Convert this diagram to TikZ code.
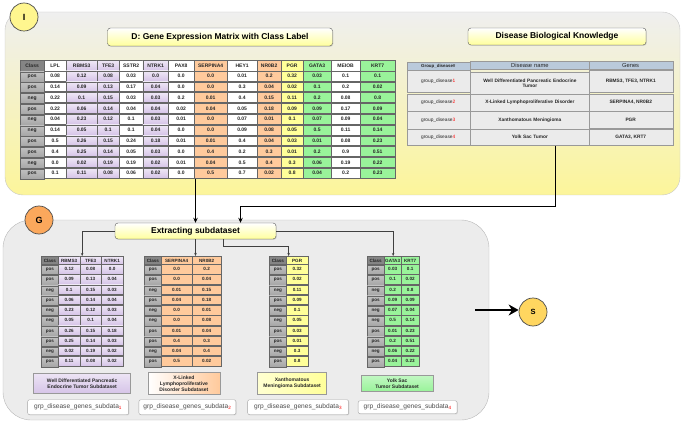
\documentclass[tikz,border=0pt]{standalone}
\usepackage{fontspec}
\setmainfont{Liberation Sans}
\usepackage{tikz}
\usetikzlibrary{arrows.meta,positioning,matrix,shadows}
\usepackage{xcolor}
\definecolor{PanelTop}{HTML}{EFEFEF}
\definecolor{PanelYellow}{HTML}{FCF59A}
\definecolor{PanelGray}{HTML}{ECECEC}
\definecolor{TitleYellow}{HTML}{FFFF9C}
\definecolor{Lavender}{HTML}{D6C4E8}
\definecolor{Peach}{HTML}{FFCA9C}
\definecolor{PaleYellow}{HTML}{FFFF99}
\definecolor{Mint}{HTML}{99F39A}
\definecolor{ClassGray}{HTML}{A6A6A6}
\definecolor{HeadBlue}{HTML}{BACADB}
\definecolor{RowGray}{HTML}{EBEBEB}
\definecolor{BadgeI}{HTML}{FFF68F}
\definecolor{BadgeG}{HTML}{FBA85C}
\definecolor{BadgeS}{HTML}{FFD660}
\tikzset{
    % big rounded panels
    panel/.style={
        rectangle,
        draw=black!22,
        inner sep=0pt
    },
    badge/.style={
        circle,
        draw=black!70,
        line width=0.7pt,
        minimum size=28pt,
        inner sep=0pt,
        font=\fontsize{9}{9}\selectfont\bfseries
    },
    titlebox/.style={
        rectangle,
        rounded corners=3pt,
        draw=black!65,
        top color=white,
        bottom color=TitleYellow,
        font=\fontsize{8.5}{10}\selectfont\bfseries,
        drop shadow={shadow xshift=0.8pt, shadow yshift=-0.8pt, opacity=0.25}
    },
    % table cells
    cell/.style={
        rectangle,
        draw=black!60,
        line width=0.4pt,
        inner sep=0.5pt,
        minimum height=9.9pt,
        font=\fontsize{5}{6}\selectfont\bfseries,
        text=black!85
    },
    clscell/.style={top color=ClassGray!70, bottom color=ClassGray},
    clshead/.style={top color=ClassGray!80!black, bottom color=ClassGray!80!black},
    plaincell/.style={fill=white},
    purplecell/.style={top color=Lavender!40, bottom color=Lavender},
    peachcell/.style={fill=Peach},
    pgrcell/.style={fill=PaleYellow},
    greencell/.style={fill=Mint},
    datamatrix/.style={
        matrix of nodes,
        nodes={cell},
        column sep=-0.4pt,
        row sep=-0.4pt,
        inner sep=0pt,
        anchor=north west
    },
    labelbox/.style={
        rectangle,
        draw=black!40,
        align=center,
        inner sep=1pt,
        font=\fontsize{5}{6}\selectfont\bfseries,
        text=black!85,
        drop shadow={shadow xshift=0.7pt, shadow yshift=-0.7pt, opacity=0.2}
    },
    namebox/.style={
        rectangle,
        rounded corners=2pt,
        draw=black!35,
        fill=white,
        minimum height=15pt,
        font=\fontsize{6.6}{7}\selectfont,
        text=black!70,
        drop shadow={shadow xshift=0.7pt, shadow yshift=-0.7pt, opacity=0.2}
    },
    bigarrow/.style={
        -{Stealth[length=5pt,width=4.5pt]},
        line width=1.3pt,
        color=black
    },
    thinarrow/.style={
        -{Stealth[length=3pt,width=2.5pt]},
        line width=0.6pt,
        color=black!75
    },
    fatarrow/.style={
        -{Stealth[length=10pt,width=11pt]},
        line width=2.6pt,
        color=black
    }
}
\begin{document}
\begin{tikzpicture}[x=1pt, y=-1pt,
    subtable/.style={datamatrix,
        nodes={minimum height=9.4pt, font=\fontsize{4.6}{5}\selectfont\bfseries},
        row 1/.style={nodes={minimum height=8pt}},
        row 1 column 1/.style={nodes={clshead}}}
]
\useasboundingbox (0,0) rectangle (685,422);

% panels
\node[panel, top color=PanelTop, bottom color=PanelYellow, rounded corners=18pt,
      minimum width=675pt, minimum height=183pt] (panelI) at (342.5,103.5) {};
\node[panel, fill=PanelGray, draw=black!28, rounded corners=28pt,
      minimum width=486pt, minimum height=200pt] (panelG) at (246,320) {};

\node[badge, fill=BadgeI] (badgeI) at (24,17) {I};
\node[badge, fill=BadgeG] (badgeG) at (39,220) {G};
\node[badge, fill=BadgeS, font=\fontsize{7.5}{8}\selectfont\bfseries] (badgeS) at (533,312) {S};

\node[titlebox, minimum width=225pt, minimum height=18pt] (matrixtitle) at (220,37)
    {D: Gene Expression Matrix with Class Label};
\node[titlebox, minimum width=178pt, minimum height=17pt] (knowtitle) at (557,36.5)
    {Disease Biological Knowledge};
\node[titlebox, minimum width=161pt, minimum height=16pt] (extract) at (195.5,231)
    {Extracting subdataset};

% gene expression matrix
\matrix (bigtab) [datamatrix,
    row 1/.style={nodes={minimum height=10.5pt}},
    row 1 column 1/.style={nodes={clshead}},
    column 1/.style={nodes={clscell, minimum width=23.5pt}},
    column 2/.style={nodes={plaincell, minimum width=22.5pt}},
    column 3/.style={nodes={purplecell, minimum width=30.5pt}},
    column 4/.style={nodes={purplecell, minimum width=22.5pt}},
    column 5/.style={nodes={plaincell, minimum width=23.5pt}},
    column 6/.style={nodes={purplecell, minimum width=25.5pt}},
    column 7/.style={nodes={plaincell, minimum width=25.5pt}},
    column 8/.style={nodes={peachcell, minimum width=33.5pt}},
    column 9/.style={nodes={plaincell, minimum width=29.5pt}},
    column 10/.style={nodes={peachcell, minimum width=24.5pt}},
    column 11/.style={nodes={pgrcell, minimum width=21.5pt}},
    column 12/.style={nodes={greencell, minimum width=28.5pt}},
    column 13/.style={nodes={plaincell, minimum width=28.5pt}},
    column 14/.style={nodes={greencell, minimum width=35.5pt}}
] at (20,60) {
    Class & LPL & RBMS3 & TFE3 & SSTR2 & NTRK1 & PAX8 & SERPINA4 & HEY1 & NR0B2 & PGR & GATA3 & MEIOB & KRT7 \\
    pos & 0.08 & 0.12 & 0.08 & 0.03 & 0.0 & 0.0 & 0.0 & 0.01 & 0.2 & 0.32 & 0.03 & 0.1 & 0.1 \\
    pos & 0.14 & 0.09 & 0.13 & 0.17 & 0.04 & 0.0 & 0.0 & 0.3 & 0.04 & 0.02 & 0.1 & 0.2 & 0.02 \\
    neg & 0.22 & 0.1 & 0.15 & 0.03 & 0.03 & 0.2 & 0.01 & 0.4 & 0.15 & 0.11 & 0.2 & 0.08 & 0.8 \\
    pos & 0.22 & 0.06 & 0.14 & 0.04 & 0.04 & 0.02 & 0.04 & 0.05 & 0.18 & 0.09 & 0.09 & 0.17 & 0.09 \\
    neg & 0.04 & 0.23 & 0.12 & 0.1 & 0.03 & 0.01 & 0.0 & 0.07 & 0.01 & 0.1 & 0.07 & 0.09 & 0.04 \\
    neg & 0.14 & 0.05 & 0.1 & 0.1 & 0.04 & 0.0 & 0.0 & 0.09 & 0.08 & 0.05 & 0.5 & 0.11 & 0.14 \\
    pos & 0.5 & 0.26 & 0.15 & 0.24 & 0.18 & 0.01 & 0.01 & 0.4 & 0.04 & 0.03 & 0.01 & 0.08 & 0.23 \\
    pos & 0.4 & 0.25 & 0.14 & 0.05 & 0.03 & 0.0 & 0.4 & 0.2 & 0.3 & 0.01 & 0.2 & 0.9 & 0.51 \\
    neg & 0.0 & 0.02 & 0.19 & 0.19 & 0.02 & 0.01 & 0.04 & 0.5 & 0.4 & 0.3 & 0.06 & 0.19 & 0.22 \\
    pos & 0.1 & 0.11 & 0.08 & 0.06 & 0.02 & 0.0 & 0.5 & 0.7 & 0.02 & 0.8 & 0.04 & 0.2 & 0.23 \\
};

% disease knowledge table
\matrix (knowtab) [datamatrix,
    nodes={draw=black!40, fill=RowGray, align=center, minimum height=17pt,
           font=\fontsize{4.8}{5.8}\selectfont\bfseries},
    column 1/.style={nodes={minimum width=63pt}},
    column 2/.style={nodes={minimum width=119pt, text width=116pt}},
    column 3/.style={nodes={minimum width=84pt}},
    row 1/.style={nodes={fill=HeadBlue, minimum height=7.5pt, font=\fontsize{5.8}{6}\selectfont}},
    row 2/.style={nodes={minimum height=22pt}},
    row 3/.style={nodes={minimum height=16.5pt}},
    row 4/.style={nodes={minimum height=17.5pt}},
    row 5/.style={nodes={minimum height=16pt}}
] at (407,61) {
    |[font=\fontsize{4.4}{5}\selectfont\bfseries]| Group\_disease\# & Disease name & Genes \\
    |[font=\fontsize{4.8}{5}\selectfont]| group\_disease\textcolor{red}{1} & {Well Differentiated Pancreatic Endocrine\\Tumor} & RBMS3, TFE3, NTRK1 \\
    |[font=\fontsize{4.8}{5}\selectfont]| group\_disease\textcolor{red}{2} & X-Linked Lymphoproliferative Disorder & SERPINA4, NR0B2 \\
    |[font=\fontsize{4.8}{5}\selectfont]| group\_disease\textcolor{red}{3} & Xanthomatous Meningioma & PGR \\
    |[font=\fontsize{4.8}{5}\selectfont]| group\_disease\textcolor{red}{4} & Yolk Sac Tumor & GATA3, KRT7 \\
};

% subdatasets
\matrix (sub1) [subtable,
    column 1/.style={nodes={clscell, minimum width=17pt}},
    column 2/.style={nodes={purplecell, minimum width=21.5pt}},
    column 3/.style={nodes={purplecell, minimum width=21.5pt}},
    column 4/.style={nodes={purplecell, minimum width=21.5pt}}
] at (41,256) {
    Class & RBMS3 & TFE3 & NTRK1 \\
    pos & 0.12 & 0.08 & 0.0 \\
    pos & 0.09 & 0.13 & 0.04 \\
    neg & 0.1 & 0.15 & 0.03 \\
    pos & 0.06 & 0.14 & 0.04 \\
    neg & 0.23 & 0.12 & 0.03 \\
    neg & 0.05 & 0.1 & 0.04 \\
    pos & 0.26 & 0.15 & 0.18 \\
    pos & 0.25 & 0.14 & 0.03 \\
    neg & 0.02 & 0.19 & 0.02 \\
    pos & 0.11 & 0.08 & 0.02 \\
};
\matrix (sub2) [subtable,
    column 1/.style={nodes={clscell, minimum width=17pt}},
    column 2/.style={nodes={peachcell, minimum width=30.5pt}},
    column 3/.style={nodes={peachcell, minimum width=29.5pt}}
] at (144,256) {
    Class & SERPINA4 & NR0B2 \\
    pos & 0.0 & 0.2 \\
    pos & 0.0 & 0.04 \\
    neg & 0.01 & 0.15 \\
    pos & 0.04 & 0.18 \\
    neg & 0.0 & 0.01 \\
    neg & 0.0 & 0.08 \\
    pos & 0.01 & 0.04 \\
    pos & 0.4 & 0.3 \\
    neg & 0.04 & 0.4 \\
    pos & 0.5 & 0.02 \\
};
\matrix (sub3) [subtable,
    column 1/.style={nodes={clscell, minimum width=17pt}},
    column 2/.style={nodes={pgrcell, minimum width=21.5pt}}
] at (269,256) {
    Class & PGR \\
    pos & 0.32 \\
    pos & 0.02 \\
    neg & 0.11 \\
    pos & 0.09 \\
    neg & 0.1 \\
    neg & 0.05 \\
    pos & 0.03 \\
    pos & 0.01 \\
    neg & 0.3 \\
    pos & 0.8 \\
};
\matrix (sub4) [subtable,
    column 1/.style={nodes={clscell, minimum width=16.5pt}},
    column 2/.style={nodes={greencell, minimum width=17.5pt}},
    column 3/.style={nodes={greencell, minimum width=17.5pt}}
] at (367,256) {
    Class & GATA3 & KRT7 \\
    pos & 0.03 & 0.1 \\
    pos & 0.1 & 0.02 \\
    neg & 0.2 & 0.8 \\
    pos & 0.09 & 0.09 \\
    neg & 0.07 & 0.04 \\
    neg & 0.5 & 0.14 \\
    pos & 0.01 & 0.23 \\
    pos & 0.2 & 0.51 \\
    neg & 0.06 & 0.22 \\
    pos & 0.04 & 0.23 \\
};

\node[labelbox, top color=Lavender!45, bottom color=Lavender, minimum width=97pt,
      minimum height=20pt, below=6pt of sub1] (lab1)
    {Well Differentiated Pancreatic\\Endocrine Tumor Subdataset};
\node[labelbox, left color=white, right color=Peach, minimum width=72pt,
      minimum height=22pt, below=5pt of sub2, xshift=1pt] (lab2)
    {X-Linked\\Lymphoproliferative\\Disorder Subdataset};
\node[labelbox, left color=PaleYellow!45, right color=PaleYellow, minimum width=69pt,
      minimum height=22pt, below=5pt of sub3, xshift=3.5pt] (lab3)
    {Xanthomatous\\Meningioma Subdataset};
\node[labelbox, top color=Mint!60, bottom color=Mint, minimum width=72pt,
      minimum height=16pt, below=8pt of sub4, xshift=4pt] (lab4)
    {Yolk Sac\\Tumor Subdataset};

\node[namebox, minimum width=101pt, below=6pt of lab1, xshift=-4pt] (name1)
    {grp\_disease\_genes\_subdata\textsubscript{\textcolor{red}{1}}};
\node[namebox, minimum width=97pt, below=5pt of lab2, xshift=3.5pt] (name2)
    {grp\_disease\_genes\_subdata\textsubscript{\textcolor{red}{2}}};
\node[namebox, minimum width=101pt, below=5pt of lab3, xshift=6pt] (name3)
    {grp\_disease\_genes\_subdata\textsubscript{\textcolor{red}{3}}};
\node[namebox, minimum width=99pt, minimum height=13pt, below=9pt of lab4, xshift=10.5pt] (name4)
    {grp\_disease\_genes\_subdata\textsubscript{\textcolor{red}{4}}};

% connectors
\draw[bigarrow] (bigtab.south -| extract.north) -- (extract.north);
\draw[bigarrow] ([xshift=15pt]knowtab.south) -- ++(0,61) -| ([xshift=45pt]extract.north);
\draw[thinarrow] (extract.west) -| (sub1.north);
\draw[thinarrow] (extract.south) -- (extract.south |- sub2.north);
\draw[thinarrow] ([xshift=28pt]extract.south) -- ++(0,7) -| (sub3.north);
\draw[thinarrow] (extract.east) -| (sub4.north);

\coordinate (gout) at (475,310);
\draw[fatarrow] (gout) -- (gout -| badgeS.west);
\end{tikzpicture}
\end{document}
